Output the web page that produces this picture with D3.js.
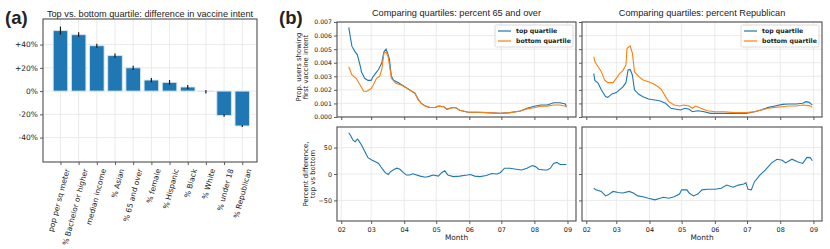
<!DOCTYPE html>
<html>
<head>
<meta charset="utf-8">
<script src="https://cdn.jsdelivr.net/npm/d3@7"></script>
<style>
  body { margin: 0; background: #fff; }
  svg { display: block; }
  text { fill: #222; }
</style>
</head>
<body>
<svg id="chart"></svg>
<script>
var width = 830;
var height = 249;

// panel (a) data
var categories = ["pop per sq meter", "% Bachelor or higher", "median income", "% Asian",
  "% 65 and over", "% female", "% Hispanic", "% Black", "% White", "% under 18", "% Republican"];
var diffValues = [52, 48.5, 39, 30.5, 20, 9.5, 7.5, 3.5, -0.5, -21, -30];
var diffErrors = [3.5, 2, 1.8, 1.8, 1.8, 1.8, 2, 1.8, 1.5, 1, 0.8];
var barTicks = [-40, -20, 0, 20, 40];

// panel (b) data: percent 65 and over
var age65Top = [
  ["2021-02-08", 0.0066], ["2021-02-11", 0.0052], ["2021-02-14", 0.0048], ["2021-02-16", 0.0046],
  ["2021-02-19", 0.0037], ["2021-02-20", 0.0033], ["2021-02-23", 0.00285], ["2021-02-26", 0.0027],
  ["2021-03-01", 0.0027], ["2021-03-03", 0.0030], ["2021-03-06", 0.0033], ["2021-03-08", 0.0035],
  ["2021-03-11", 0.0040], ["2021-03-13", 0.0048], ["2021-03-15", 0.0050], ["2021-03-16", 0.0048],
  ["2021-03-18", 0.0043], ["2021-03-20", 0.0030], ["2021-03-22", 0.0027], ["2021-03-27", 0.0025],
  ["2021-03-31", 0.0023], ["2021-04-04", 0.0021], ["2021-04-08", 0.0019], ["2021-04-11", 0.00175],
  ["2021-04-14", 0.0013], ["2021-04-17", 0.0010], ["2021-04-21", 0.0008], ["2021-04-25", 0.0007],
  ["2021-04-30", 0.0007], ["2021-05-03", 0.0008], ["2021-05-08", 0.00076], ["2021-05-11", 0.00057],
  ["2021-05-16", 0.0007], ["2021-05-19", 0.00069], ["2021-05-23", 0.0005], ["2021-05-31", 0.00035],
  ["2021-06-08", 0.00035], ["2021-06-18", 0.00032], ["2021-06-30", 0.00027], ["2021-07-09", 0.00032],
  ["2021-07-19", 0.00044], ["2021-07-25", 0.00064], ["2021-08-02", 0.00081], ["2021-08-07", 0.00088],
  ["2021-08-13", 0.00088], ["2021-08-19", 0.00105], ["2021-08-25", 0.00105], ["2021-08-30", 0.00096],
  ["2021-08-31", 0.00078]
];
var age65Bottom = [
  ["2021-02-08", 0.0037], ["2021-02-11", 0.0031], ["2021-02-15", 0.00285], ["2021-02-19", 0.0023],
  ["2021-02-22", 0.0019], ["2021-02-25", 0.0019], ["2021-03-01", 0.0021], ["2021-03-03", 0.00236],
  ["2021-03-06", 0.00285], ["2021-03-09", 0.0030], ["2021-03-11", 0.0035], ["2021-03-13", 0.0047],
  ["2021-03-15", 0.0048], ["2021-03-17", 0.0044], ["2021-03-20", 0.00285], ["2021-03-24", 0.00248],
  ["2021-03-29", 0.00236], ["2021-04-02", 0.0022], ["2021-04-08", 0.0019], ["2021-04-11", 0.00175],
  ["2021-04-14", 0.0013], ["2021-04-17", 0.0010], ["2021-04-21", 0.0008], ["2021-04-25", 0.0007],
  ["2021-04-30", 0.0007], ["2021-05-03", 0.0008], ["2021-05-08", 0.00076], ["2021-05-11", 0.00057],
  ["2021-05-16", 0.0007], ["2021-05-19", 0.00069], ["2021-05-23", 0.0005], ["2021-05-31", 0.00035],
  ["2021-06-08", 0.00035], ["2021-06-18", 0.00032], ["2021-06-30", 0.00027], ["2021-07-09", 0.00032],
  ["2021-07-19", 0.00044], ["2021-07-25", 0.0006], ["2021-08-02", 0.0007], ["2021-08-07", 0.0008],
  ["2021-08-13", 0.0008], ["2021-08-19", 0.00088], ["2021-08-25", 0.00088], ["2021-08-30", 0.0008],
  ["2021-08-31", 0.0007]
];
var age65Diff = [
  ["2021-02-08", 78], ["2021-02-10", 72], ["2021-02-12", 64], ["2021-02-14", 61], ["2021-02-16", 66],
  ["2021-02-17", 64], ["2021-02-20", 55], ["2021-02-24", 39], ["2021-02-26", 31], ["2021-03-02", 26],
  ["2021-03-05", 23], ["2021-03-08", 20], ["2021-03-11", 11], ["2021-03-14", 3], ["2021-03-17", -1],
  ["2021-03-19", 4], ["2021-03-22", 8], ["2021-03-25", 11], ["2021-03-28", 9], ["2021-03-31", 3],
  ["2021-04-03", -2], ["2021-04-06", -2], ["2021-04-09", 0.5], ["2021-04-16", -4], ["2021-04-21", -6],
  ["2021-04-25", -4], ["2021-04-28", -2], ["2021-05-03", -4], ["2021-05-06", 2.5], ["2021-05-09", 6],
  ["2021-05-12", -2], ["2021-05-17", -5], ["2021-05-23", -4], ["2021-05-30", -2], ["2021-06-02", -1],
  ["2021-06-06", -4], ["2021-06-11", -5], ["2021-06-17", -3], ["2021-06-22", 1], ["2021-06-27", 0],
  ["2021-06-30", 2.5], ["2021-07-04", 11], ["2021-07-09", 11], ["2021-07-15", 9], ["2021-07-20", 7.5],
  ["2021-07-25", 11], ["2021-07-30", 16], ["2021-08-02", 14], ["2021-08-05", 9], ["2021-08-10", 7.5],
  ["2021-08-13", 7.5], ["2021-08-16", 11], ["2021-08-19", 20], ["2021-08-22", 22], ["2021-08-25", 18],
  ["2021-08-31", 18]
];

// panel (b) data: percent Republican
var repTop = [
  ["2021-02-08", 0.0032], ["2021-02-09", 0.0027], ["2021-02-12", 0.0025], ["2021-02-15", 0.0020],
  ["2021-02-19", 0.0015], ["2021-02-21", 0.00145], ["2021-02-25", 0.0017], ["2021-03-01", 0.0018],
  ["2021-03-04", 0.0020], ["2021-03-07", 0.0022], ["2021-03-10", 0.00253], ["2021-03-12", 0.00346],
  ["2021-03-14", 0.0035], ["2021-03-16", 0.0031], ["2021-03-18", 0.0020], ["2021-03-22", 0.00167],
  ["2021-03-26", 0.0015], ["2021-03-31", 0.00133], ["2021-04-06", 0.00125], ["2021-04-11", 0.00118],
  ["2021-04-16", 0.00101], ["2021-04-21", 0.00064], ["2021-04-26", 0.00057], ["2021-04-30", 0.00052],
  ["2021-05-04", 0.00064], ["2021-05-08", 0.00057], ["2021-05-11", 0.00039], ["2021-05-16", 0.00046],
  ["2021-05-22", 0.00039], ["2021-05-28", 0.00027], ["2021-06-10", 0.00027], ["2021-06-20", 0.00027],
  ["2021-06-30", 0.00027], ["2021-07-08", 0.00039], ["2021-07-14", 0.00052], ["2021-07-21", 0.00071],
  ["2021-07-27", 0.00081], ["2021-08-03", 0.00093], ["2021-08-09", 0.00096], ["2021-08-16", 0.00096],
  ["2021-08-22", 0.00101], ["2021-08-25", 0.00113], ["2021-08-28", 0.00108], ["2021-08-31", 0.00088]
];
var repBottom = [
  ["2021-02-08", 0.00444], ["2021-02-09", 0.00408], ["2021-02-12", 0.0037], ["2021-02-15", 0.00334],
  ["2021-02-18", 0.00273], ["2021-02-21", 0.00253], ["2021-02-26", 0.00253], ["2021-03-01", 0.00285],
  ["2021-03-04", 0.0032], ["2021-03-07", 0.0034], ["2021-03-10", 0.00383], ["2021-03-11", 0.00506],
  ["2021-03-14", 0.00523], ["2021-03-16", 0.0047], ["2021-03-18", 0.00334], ["2021-03-22", 0.00297],
  ["2021-03-26", 0.00273], ["2021-03-31", 0.0026], ["2021-04-05", 0.00243], ["2021-04-09", 0.00223],
  ["2021-04-12", 0.00204], ["2021-04-16", 0.0015], ["2021-04-19", 0.00113], ["2021-04-24", 0.00088],
  ["2021-04-29", 0.00081], ["2021-05-03", 0.00088], ["2021-05-08", 0.00081], ["2021-05-11", 0.00064],
  ["2021-05-14", 0.00081], ["2021-05-19", 0.00064], ["2021-05-25", 0.00046], ["2021-06-01", 0.00039],
  ["2021-06-10", 0.00039], ["2021-06-19", 0.00032], ["2021-06-30", 0.00032], ["2021-07-08", 0.00039],
  ["2021-07-14", 0.00052], ["2021-07-21", 0.00064], ["2021-07-27", 0.00071], ["2021-08-03", 0.00076],
  ["2021-08-09", 0.00081], ["2021-08-16", 0.00081], ["2021-08-22", 0.00088], ["2021-08-28", 0.00084],
  ["2021-08-31", 0.00071]
];
var repDiff = [
  ["2021-02-08", -27], ["2021-02-10", -30], ["2021-02-15", -33], ["2021-02-19", -41.5],
  ["2021-02-21", -40], ["2021-02-26", -33], ["2021-03-03", -35], ["2021-03-07", -36],
  ["2021-03-13", -33], ["2021-03-17", -36], ["2021-03-21", -41.5], ["2021-03-26", -43],
  ["2021-03-31", -46], ["2021-04-06", -49], ["2021-04-11", -46], ["2021-04-14", -44],
  ["2021-04-19", -46], ["2021-04-24", -43], ["2021-04-29", -38], ["2021-05-01", -30],
  ["2021-05-06", -30], ["2021-05-08", -36], ["2021-05-12", -41.5], ["2021-05-16", -38],
  ["2021-05-20", -30], ["2021-05-25", -29], ["2021-06-01", -29], ["2021-06-07", -27],
  ["2021-06-12", -21], ["2021-06-18", -25], ["2021-06-23", -21], ["2021-06-28", -19],
  ["2021-06-30", -16.5], ["2021-07-02", -29], ["2021-07-05", -30], ["2021-07-08", -14.5],
  ["2021-07-13", -2], ["2021-07-18", 7.5], ["2021-07-24", 21], ["2021-07-29", 28],
  ["2021-08-03", 26], ["2021-08-06", 21], ["2021-08-12", 28], ["2021-08-17", 23],
  ["2021-08-22", 20], ["2021-08-26", 31.5], ["2021-08-29", 31], ["2021-08-31", 25]
];

var monthTicks = ["2021-02-01", "2021-03-01", "2021-04-01", "2021-05-01", "2021-06-01",
  "2021-07-01", "2021-08-01", "2021-09-01"];
var propTicks = [0, 0.001, 0.002, 0.003, 0.004, 0.005, 0.006, 0.007];
var pctTicks = [-50, 0, 50];

var blue = "#1f77b4";
var orange = "#ff7f0e";
var gridColor = "#e6e6e6";
var frameColor = "#4d4d4d";
var parseDate = d3.timeParse("%Y-%m-%d");

var svg = d3.select("#chart")
  .attr("width", width)
  .attr("height", height);

function frame(g, x0, x1, y0, y1) {
  g.append("rect")
    .attr("x", x0).attr("y", y0)
    .attr("width", x1 - x0).attr("height", y1 - y0)
    .attr("fill", "none")
    .attr("stroke", frameColor)
    .attr("stroke-width", 1.1);
}

function styleAxis(g, size) {
  g.select(".domain").remove();
  g.selectAll(".tick line").attr("stroke", "#333").attr("stroke-width", 0.8);
  g.selectAll(".tick text")
    .attr("font-family", "DejaVu Sans")
    .attr("font-size", size)
    .attr("fill", "#222");
}

// ---------- panel (a) ----------
var ax = { left: 43, right: 257, top: 19, bottom: 162 };

var xBar = d3.scaleLinear()
  .domain([-0.96, 10.81])
  .range([ax.left, ax.right]);

var yBar = d3.scaleLinear()
  .domain([-61, 62])
  .range([ax.bottom, ax.top]);

var gA = svg.append("g");

gA.selectAll(".vgrid")
  .data(categories)
  .enter()
  .append("line")
    .attr("x1", (d, i) => xBar(i))
    .attr("x2", (d, i) => xBar(i))
    .attr("y1", ax.top)
    .attr("y2", ax.bottom)
    .attr("stroke", gridColor)
    .attr("stroke-width", 0.8);

gA.selectAll(".hgrid")
  .data(barTicks)
  .enter()
  .append("line")
    .attr("x1", ax.left)
    .attr("x2", ax.right)
    .attr("y1", d => yBar(d))
    .attr("y2", d => yBar(d))
    .attr("stroke", gridColor)
    .attr("stroke-width", 0.8);

var barW = (xBar(1) - xBar(0)) * 0.8;

gA.selectAll(".bar")
  .data(diffValues)
  .enter()
  .append("rect")
    .attr("x", (d, i) => xBar(i) - barW / 2)
    .attr("y", d => yBar(Math.max(0, d)))
    .attr("width", barW)
    .attr("height", d => Math.abs(yBar(d) - yBar(0)))
    .attr("fill", blue)
    .attr("stroke", "#d6e6f3")
    .attr("stroke-width", 0.9);

gA.selectAll(".err")
  .data(diffValues)
  .enter()
  .append("line")
    .attr("x1", (d, i) => xBar(i))
    .attr("x2", (d, i) => xBar(i))
    .attr("y1", (d, i) => yBar(d - diffErrors[i]))
    .attr("y2", (d, i) => yBar(d + diffErrors[i]))
    .attr("stroke", "#1a1a1a")
    .attr("stroke-width", 1.2);

var yAxisA = gA.append("g")
  .attr("transform", "translate(" + ax.left + ",0)")
  .call(d3.axisLeft(yBar)
    .tickValues(barTicks)
    .tickSize(3)
    .tickPadding(2)
    .tickFormat(d => (d > 0 ? "+" : d < 0 ? "-" : "") + Math.abs(d) + "%"));
styleAxis(yAxisA, 7.5);

var xAxisA = gA.append("g")
  .attr("transform", "translate(0," + ax.bottom + ")")
  .call(d3.axisBottom(xBar)
    .tickValues(d3.range(categories.length))
    .tickSize(3)
    .tickFormat(i => categories[i]));
styleAxis(xAxisA, 7.5);
xAxisA.selectAll(".tick text")
  .attr("text-anchor", "end")
  .attr("dy", 0)
  .attr("transform", "translate(3,6) rotate(-75)");

frame(gA, ax.left, ax.right, ax.top, ax.bottom);

gA.append("text")
  .attr("x", 150).attr("y", 17)
  .attr("text-anchor", "middle")
  .attr("font-family", "Liberation Sans")
  .attr("font-size", 9.2)
  .text("Top vs. bottom quartile: difference in vaccine intent");

svg.append("text")
  .attr("x", 5).attr("y", 24)
  .attr("font-family", "Liberation Sans")
  .attr("font-weight", "bold")
  .attr("font-size", 18.5)
  .text("(a)");

svg.append("text")
  .attr("x", 279).attr("y", 24)
  .attr("font-family", "Liberation Sans")
  .attr("font-weight", "bold")
  .attr("font-size", 18.5)
  .text("(b)");

// ---------- panel (b) ----------
var cols = [
  { x0: 337, x1: 576, title: "Comparing quartiles: percent 65 and over",
    top: age65Top, bottom: age65Bottom, diff: age65Diff, labels: true },
  { x0: 582, x1: 822, title: "Comparing quartiles: percent Republican",
    top: repTop, bottom: repBottom, diff: repDiff, labels: false }
];
var rowTop = { y0: 22, y1: 117 };
var rowBot = { y0: 127, y1: 221 };

var yProp = d3.scaleLinear().domain([0, 0.007]).range([rowTop.y1, rowTop.y0]);
var yPct = d3.scaleLinear().domain([-89, 89]).range([rowBot.y1, rowBot.y0]);
var monthDates = monthTicks.map(parseDate);

cols.forEach(function(c) {
  var x = d3.scaleTime()
    .domain([parseDate("2021-01-28"), parseDate("2021-09-09")])
    .range([c.x0, c.x1]);

  [[rowTop, yProp, propTicks], [rowBot, yPct, pctTicks]].forEach(function(r) {
    var row = r[0], y = r[1], ticks = r[2];
    var g = svg.append("g");
    g.selectAll(".vg").data(monthDates).enter().append("line")
      .attr("x1", d => x(d)).attr("x2", d => x(d))
      .attr("y1", row.y0).attr("y2", row.y1)
      .attr("stroke", gridColor).attr("stroke-width", 0.8);
    g.selectAll(".hg").data(ticks).enter().append("line")
      .attr("x1", c.x0).attr("x2", c.x1)
      .attr("y1", d => y(d)).attr("y2", d => y(d))
      .attr("stroke", gridColor).attr("stroke-width", 0.8);
  });

  var line = function(y) {
    return d3.line()
      .x(d => x(parseDate(d[0])))
      .y(d => y(d[1]));
  };

  svg.append("path")
    .datum(c.top)
    .attr("d", line(yProp))
    .attr("fill", "none").attr("stroke", blue).attr("stroke-width", 1.1);
  svg.append("path")
    .datum(c.bottom)
    .attr("d", line(yProp))
    .attr("fill", "none").attr("stroke", orange).attr("stroke-width", 1.1);
  svg.append("path")
    .datum(c.diff)
    .attr("d", line(yPct))
    .attr("fill", "none").attr("stroke", blue).attr("stroke-width", 1.1);

  // axes
  var yt = svg.append("g")
    .attr("transform", "translate(" + c.x0 + ",0)")
    .call(d3.axisLeft(yProp).tickValues(propTicks).tickSize(3).tickPadding(2)
      .tickFormat(c.labels ? d3.format(".3f") : ""));
  styleAxis(yt, 6.2);
  var yb = svg.append("g")
    .attr("transform", "translate(" + c.x0 + ",0)")
    .call(d3.axisLeft(yPct).tickValues(pctTicks).tickSize(3).tickPadding(2)
      .tickFormat(c.labels ? d3.format("d") : ""));
  styleAxis(yb, 6.4);
  yb.selectAll(".tick text").text(d => c.labels ? (d < 0 ? "\u2212" + Math.abs(d) : d) : "");

  var xt = svg.append("g")
    .attr("transform", "translate(0," + rowTop.y1 + ")")
    .call(d3.axisBottom(x).tickValues(monthDates).tickSize(3).tickFormat(""));
  styleAxis(xt, 6);
  var xb = svg.append("g")
    .attr("transform", "translate(0," + rowBot.y1 + ")")
    .call(d3.axisBottom(x).tickValues(monthDates).tickSize(3).tickPadding(3)
      .tickFormat(d3.timeFormat("%m")));
  styleAxis(xb, 6.5);

  frame(svg, c.x0, c.x1, rowTop.y0, rowTop.y1);
  frame(svg, c.x0, c.x1, rowBot.y0, rowBot.y1);

  svg.append("text")
    .attr("x", (c.x0 + c.x1) / 2).attr("y", 16)
    .attr("text-anchor", "middle")
    .attr("font-family", "Liberation Sans")
    .attr("font-size", 9.2)
    .text(c.title);

  svg.append("text")
    .attr("x", (c.x0 + c.x1) / 2).attr("y", 240)
    .attr("text-anchor", "middle")
    .attr("font-family", "DejaVu Sans")
    .attr("font-size", 7.4)
    .text("Month");

  // legend
  var lw = 78, lh = 22;
  var lx = c.x1 - lw - 3, ly = 25;
  var leg = svg.append("g").attr("transform", "translate(" + lx + "," + ly + ")");
  leg.append("rect")
    .attr("width", lw).attr("height", lh).attr("rx", 1.5)
    .attr("fill", "#fff").attr("fill-opacity", 0.85)
    .attr("stroke", "#d0d0d0").attr("stroke-width", 0.8);
  [["top quartile", blue], ["bottom quartile", orange]].forEach(function(e, i) {
    var yy = 6 + i * 10;
    leg.append("line")
      .attr("x1", 3).attr("x2", 16).attr("y1", yy).attr("y2", yy)
      .attr("stroke", e[1]).attr("stroke-width", 1.2);
    leg.append("text")
      .attr("x", 21).attr("y", yy + 2.2)
      .attr("font-family", "DejaVu Sans")
      .attr("font-size", 6.2)
      .attr("font-weight", 600)
      .text(e[0]);
  });
});

// y labels of panel (b)
function yLabel(lines, cx, cy) {
  var t = svg.append("text")
    .attr("transform", "translate(" + cx + "," + cy + ") rotate(-90)")
    .attr("text-anchor", "middle")
    .attr("font-family", "DejaVu Sans")
    .attr("font-size", 6.9);
  lines.forEach(function(s, i) {
    t.append("tspan").attr("x", 0).attr("dy", i === 0 ? 0 : 7).text(s);
  });
}
yLabel(["Prop. users showing", "first vaccine intent"], 301, 67);
yLabel(["Percent difference,", "top vs bottom"], 308, 174);
</script>
</body>
</html>
